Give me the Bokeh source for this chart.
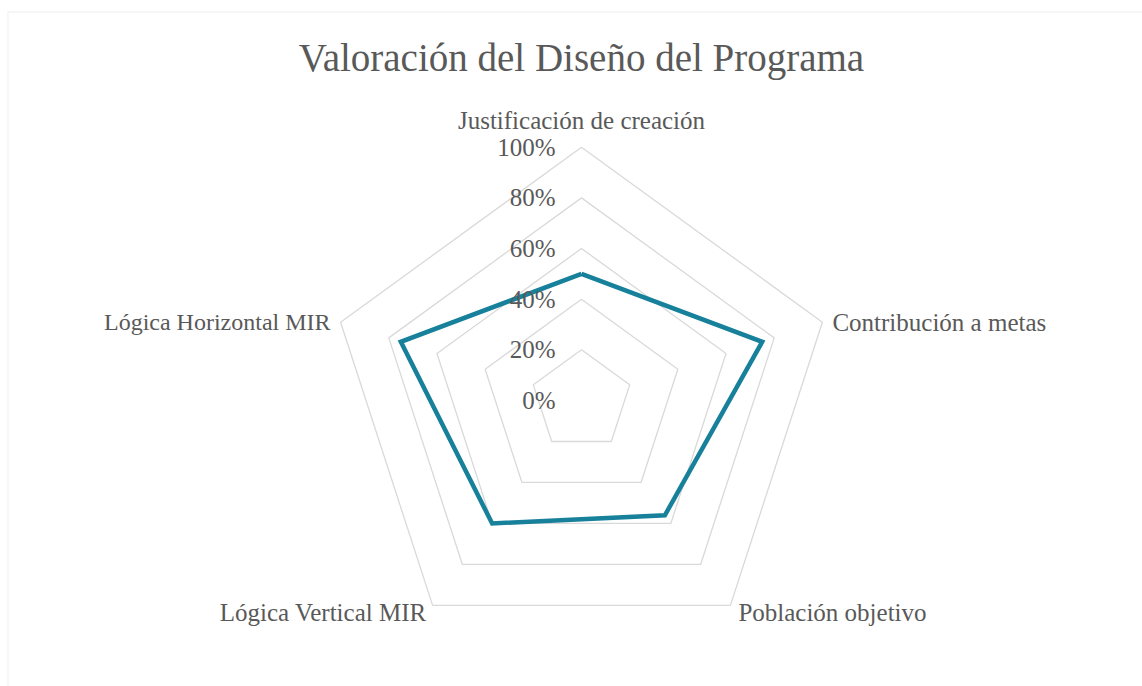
import numpy as np
from bokeh.plotting import figure
from bokeh.models import Range1d, BoxAnnotation
from bokeh.core.properties import value
from bokeh.embed import file_html
from bokeh.resources import INLINE

# ---- data ----
title_text = "Valoración del Diseño del Programa"
categories = ["Justificación de creación", "Contribución a metas", "Población objetivo",
              "Lógica Vertical MIR", "Lógica Horizontal MIR"]
values = [0.50, 0.75, 0.56, 0.60, 0.75]
tick_values = [0.0, 0.2, 0.4, 0.6, 0.8, 1.0]
tick_labels = ["0%", "20%", "40%", "60%", "80%", "100%"]

# ---- layout (pixels) ----
W, H = 1142, 686
CX, CY, R = 581.0, 400.0, 253.3
FONT = "Liberation Serif"
TXT = "#595959"
GRID = "#d9d9d9"
LINE = "#17809a"

def px(x):
    return (x - CX) / R

def py(y):
    return (CY - y) / R

p = figure(width=W, height=H, output_backend="svg", toolbar_location=None,
           x_range=Range1d(px(0), px(W)), y_range=Range1d(py(H), py(0)),
           min_border=0, tools="")
p.axis.visible = False
p.grid.visible = False
p.outline_line_color = None
p.background_fill_color = "white"

# chart border
p.add_layout(BoxAnnotation(left=px(7.5), right=px(W + 20), top=py(11.5), bottom=py(H + 20),
                           fill_color=None, line_color=GRID, line_width=1.5))

n = len(categories)
theta = np.pi / 2 - 2 * np.pi * np.arange(n) / n
ct, st = np.cos(theta), np.sin(theta)

# grid rings
for tv in tick_values[1:]:
    xs = list(tv * ct) + [tv * ct[0]]
    ys = list(tv * st) + [tv * st[0]]
    p.line(xs, ys, line_color=GRID, line_width=1.3)

# data polygon
v = np.array(values)
xs = list(v * ct) + [v[0] * ct[0]]
ys = list(v * st) + [v[0] * st[0]]
p.line(xs, ys, line_color=LINE, line_width=4.5, line_join="miter")

# tick labels
p.text(x=[-26 / R] * len(tick_values), y=tick_values, text=tick_labels,
       text_font=value(FONT), text_font_size="25px", text_color=TXT,
       text_align="right", text_baseline="middle")

# category labels
offs = [(0, 13), (10, 0), (8, -7), (-6, -7), (-10, 0)]
aligns = ["center", "left", "left", "right", "right"]
bases = ["bottom", "middle", "middle", "middle", "middle"]
sizes = ["25px", "25px", "25px", "25px", "24px"]
for i in range(n):
    dx, dy = offs[i]
    p.text(x=[ct[i] + dx / R], y=[st[i] + dy / R], text=[categories[i]],
           text_font=value(FONT), text_font_size=sizes[i], text_color=TXT,
           text_align=aligns[i], text_baseline=bases[i])

# title
p.text(x=[0], y=[py(57)], text=[title_text], text_font=value(FONT),
       text_font_size="39px", text_color=TXT, text_align="center",
       text_baseline="middle")

open("out.html", "w").write(file_html(p, INLINE))
